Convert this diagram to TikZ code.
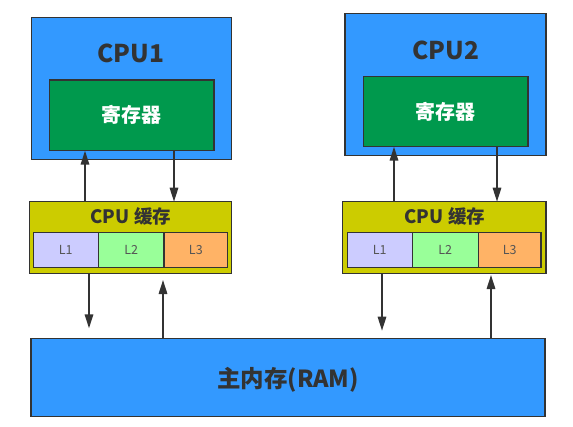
\documentclass[tikz,border=0pt]{standalone}
\usepackage{fontspec}
\setmainfont{Noto Sans CJK SC}
\usetikzlibrary{arrows.meta}
\definecolor{cpublue}{HTML}{3399FF}
\definecolor{reggreen}{HTML}{00994D}
\definecolor{cacheyel}{HTML}{CCCC00}
\definecolor{lone}{HTML}{CCCCFF}
\definecolor{ltwo}{HTML}{99FF99}
\definecolor{lthree}{HTML}{FFB366}
\definecolor{edge}{HTML}{333333}
\definecolor{ltext}{HTML}{555555}
\tikzset{
  box/.style={draw=edge, line width=1.3pt, anchor=north west, inner sep=0pt, outer sep=0pt},
  cpubox/.style={box, fill=cpublue},
  regbox/.style={box, fill=reggreen, text=white, font=\bfseries\fontsize{20}{20}\selectfont},
  cachebox/.style={box, fill=cacheyel},
  lbox/.style={box, line width=1.1pt, text=ltext, font=\fontsize{12.5}{12.5}\selectfont},
  ramlbl/.style={text=edge, font=\bfseries\fontsize{23.5}{23.5}\selectfont},
  cpulbl/.style={text=edge, font=\bfseries\fontsize{24.5}{24.5}\selectfont},
  cachelbl/.style={text=edge, font=\bfseries\fontsize{18.5}{18.5}\selectfont},
  arr/.style={draw=edge, line width=1.6pt, -{Triangle[width=8.5pt,length=14pt]}}
}
\begin{document}
\begin{tikzpicture}[x=1pt,y=-1pt]
\useasboundingbox (0,0) rectangle (573,426);
% CPU1
\node[cpubox, minimum width=200pt, minimum height=142pt] (cpu1) at (31.7,17.3) {};
\node[cpulbl] (cpu1l) at (131,53) {CPU1};
\node[regbox, minimum width=164.7pt, minimum height=70.7pt] (reg1) at (49.3,80) {寄存器};
% CPU2
\node[cpubox, minimum width=201pt, minimum height=142.4pt] (cpu2) at (345,13.3) {};
\node[cpulbl] (cpu2l) at (445.7,50) {CPU2};
\node[regbox, minimum width=164.7pt, minimum height=70pt] (reg2) at (363.3,76.7) {寄存器};
% Cache 1
\node[cachebox, minimum width=202.4pt, minimum height=71.6pt] (cache1) at (29.3,201.7) {};
\node[cachelbl] (cache1l) at (131,216) {CPU\hspace{0.25em}缓存};
\node[lbox, fill=lone, minimum width=65pt, minimum height=35pt] (c1l1) at (33.3,232.3) {L1};
\node[lbox, fill=ltwo, minimum width=65.7pt, minimum height=35pt] (c1l2) at (98.3,232.3) {L2};
\node[lbox, fill=lthree, minimum width=63.7pt, minimum height=35pt] (c1l3) at (164,232.3) {L3};
% Cache 2
\node[cachebox, minimum width=203.3pt, minimum height=71.6pt] (cache2) at (342.7,201.7) {};
\node[cachelbl] (cache2l) at (445,216) {CPU\hspace{0.25em}缓存};
\node[lbox, fill=lone, minimum width=65pt, minimum height=35pt] (c2l1) at (347.3,232.3) {L1};
\node[lbox, fill=ltwo, minimum width=66pt, minimum height=35pt] (c2l2) at (412.3,232.3) {L2};
\node[lbox, fill=lthree, minimum width=62.7pt, minimum height=35pt] (c2l3) at (478.3,232.3) {L3};
% RAM
\node[cpubox, minimum width=514pt, minimum height=78.4pt] (ram) at (31,338.3) {};
\node[ramlbl] (raml) at (288,380) {主内存(RAM)};
% arrow columns
\coordinate (a1) at (85,0);
\coordinate (a2) at (174,0);
\coordinate (a3) at (394,0);
\coordinate (a4) at (497,0);
% free arrow ends
\coordinate (d1) at (89,328.3);
\coordinate (u1) at (163,280);
\coordinate (d2) at (382,330.7);
\coordinate (u2) at (491,275);
% CPU1 <-> cache1
\draw[arr] (cache1.north -| a1) -- (reg1.south -| a1);
\draw[arr] (reg1.south -| a2) -- (cache1.north -| a2);
% CPU2 <-> cache2
\draw[arr] (cache2.north -| a3) -- (reg2.south -| a3);
\draw[arr] (reg2.south -| a4) -- (cache2.north -| a4);
% caches <-> RAM
\draw[arr] (cache1.south -| d1) -- (d1);
\draw[arr] (ram.north -| u1) -- (u1);
\draw[arr] (cache2.south -| d2) -- (d2);
\draw[arr] (ram.north -| u2) -- (u2);
\end{tikzpicture}
\end{document}
